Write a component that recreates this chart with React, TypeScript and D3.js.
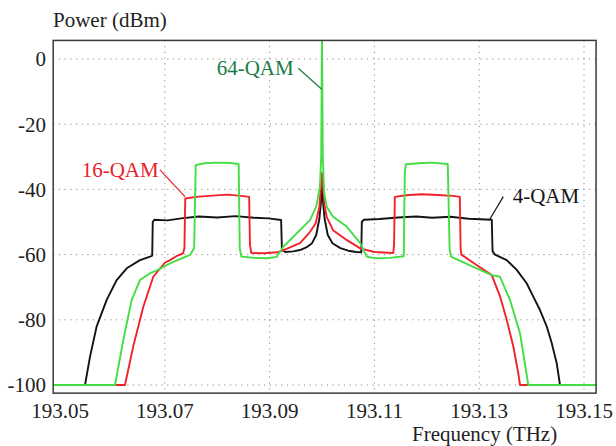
import * as d3 from "d3";

// spectrum traces: frequency (THz) / power (dBm)
const qam4Freq = [
  193.0487, 193.05477, 193.05573, 193.057, 193.05891, 193.06082, 193.06273, 193.06527, 193.06718, 193.0676,
  193.0677, 193.068, 193.0705, 193.0735, 193.0765, 193.08, 193.0835, 193.087, 193.0898, 193.0922,
  193.09235, 193.093, 193.0945, 193.0958, 193.097, 193.0981, 193.0989, 193.0995, 193.0998, 193.1,
  193.1002, 193.1005, 193.1011, 193.102, 193.1035, 193.105, 193.1065, 193.1075, 193.1076, 193.108,
  193.111, 193.1145, 193.118, 193.121, 193.1245, 193.128, 193.1324, 193.13255, 193.13302, 193.13525,
  193.13716, 193.13906, 193.14032, 193.1416, 193.14288, 193.14384, 193.14479, 193.14542, 193.1523,
];
const qam4Power = [
  -100, -100, -91.3, -82, -73.9, -67.8, -64.2, -61.7, -60.6, -60.3,
  -50, -49.3, -49.5, -48.8, -48.3, -48.6, -48.2, -48.7, -48.9, -49.4,
  -58.5, -59.2, -59.0, -58.6, -57.8, -56.5, -54, -49, -44, -37,
  -44, -49, -54, -56.5, -58, -58.8, -59.2, -59.3, -50, -49.3,
  -49.1, -48.6, -48.3, -48.7, -48.4, -49.0, -49.3, -59, -60, -61.7,
  -64.7, -68.8, -72.9, -77, -82, -87.1, -93.3, -100, -100,
];

const qam16Freq = [
  193.0487, 193.0624, 193.064, 193.0659, 193.0678, 193.07, 193.071, 193.0722, 193.0735, 193.07375,
  193.0739, 193.076, 193.079, 193.082, 193.0845, 193.0861, 193.08625, 193.0865, 193.089, 193.0915,
  193.093, 193.0958, 193.0975, 193.0988, 193.0995, 193.1, 193.1005, 193.1009, 193.1021, 193.1047,
  193.1073, 193.11, 193.1136, 193.11375, 193.1139, 193.116, 193.119, 193.122, 193.125, 193.1263,
  193.12645, 193.1266, 193.1295, 193.1324, 193.134, 193.13525, 193.13651, 193.13746, 193.13779, 193.1523,
];
const qam16Power = [
  -100, -100, -88, -76, -66.8, -62.5, -61.7, -60.5, -59.6, -58,
  -42.8, -42.3, -41.9, -41.6, -42.0, -42.3, -57, -59.5, -59.6, -59.3,
  -58.4, -56.5, -53.5, -50.4, -45.3, -35, -45, -48.4, -52.5, -55.5,
  -58.1, -59.2, -59.5, -57, -42.3, -41.8, -41.5, -41.7, -42.0, -42.3,
  -58, -60, -63.2, -66.3, -72.9, -80, -88.2, -96.4, -100, -100,
];

const qam64Freq = [
  193.0487, 193.0605, 193.06208, 193.06368, 193.06527, 193.06718, 193.0683, 193.0692, 193.07099, 193.073,
  193.07481, 193.0756, 193.0759, 193.0775, 193.08, 193.0825, 193.0841, 193.0843, 193.0846, 193.087,
  193.08944, 193.09135, 193.09262, 193.0958, 193.0977, 193.0989, 193.0996, 193.09985, 193.1, 193.10015,
  193.1004, 193.1009, 193.1021, 193.1047, 193.1073, 193.10853, 193.11, 193.113, 193.1156, 193.1158,
  193.116, 193.1185, 193.121, 193.124, 193.12435, 193.1246, 193.12952, 193.13239, 193.13397, 193.13588,
  193.13779, 193.13937, 193.1523,
];
const qam64Power = [
  -100, -100, -86.2, -73.9, -67.8, -65.7, -65.0, -64.2, -62.7, -61.3,
  -60.1, -58, -32.5, -32, -31.8, -31.9, -32.2, -58, -60.6, -61.0,
  -61.1, -60.7, -57.6, -52.5, -49.4, -45.3, -39.2, -30, 8, -30,
  -41, -45.3, -48.4, -51.4, -56.5, -60.6, -61.1, -61.0, -60.5, -35,
  -32.3, -32, -31.8, -32.2, -58, -60.6, -64.2, -66.3, -66.8, -73.9,
  -84.1, -100, -100,
];

const xTicks = [193.05, 193.07, 193.09, 193.11, 193.13, 193.15];
const xGrid = [193.07, 193.09, 193.11, 193.13, 193.15];
const yTicks = [0, -20, -40, -60, -80, -100];

const W = 616;
const H = 446;
const font = '"Liberation Serif", "Times New Roman", Times, serif';

export default function App() {
  const x = d3.scaleLinear().domain([193.05, 193.15]).range([60, 584]);
  const y = d3.scaleLinear().domain([-100, 0]).range([385, 59]);
  const left = x(193.0487);
  const right = x(193.1523);
  const top = y(5.7);
  const bottom = y(-102.5);

  const line = d3
    .line<[number, number]>()
    .x((d) => x(d[0]))
    .y((d) => y(d[1]));

  const series = [
    { f: qam4Freq, p: qam4Power, color: "#141414" },
    { f: qam16Freq, p: qam16Power, color: "#f2222a" },
    { f: qam64Freq, p: qam64Power, color: "#44dd44" },
  ];

  // annotation labels with leader lines, in data coordinates
  const notes = [
    { text: "64-QAM", color: "#1d7a44", at: [193.0799, -4.9], from: [193.09548, -2.85], to: [193.09994, -9.3] },
    { text: "16-QAM", color: "#e8202a", at: [193.05414, -36.3], from: [193.06908, -34.0], to: [193.07385, -42.2] },
    { text: "4-QAM", color: "#141414", at: [193.13639, -44.3], from: [193.1346, -42.2], to: [193.13193, -49.4] },
  ];

  const txt = { fontFamily: font, fontSize: "21px" };

  return (
    <svg width={W} height={H} style={{ position: "absolute", left: 0, top: 0, background: "#fff", fontFamily: font }}>
      <defs>
        <clipPath id="plot">
          <rect x={left} y={top} width={right - left} height={bottom - top} />
        </clipPath>
      </defs>

      {/* grid */}
      {xGrid.map((t) => (
        <line key={"gx" + t} x1={x(t)} x2={x(t)} y1={top} y2={bottom} stroke="#8c8c8c" strokeWidth={1} strokeDasharray="1.2,4.5" />
      ))}
      {yTicks.map((t) => (
        <line key={"gy" + t} x1={left} x2={right} y1={y(t)} y2={y(t)} stroke="#8c8c8c" strokeWidth={1} strokeDasharray="1.2,4.5" />
      ))}

      {/* traces */}
      <g clipPath="url(#plot)">
        {series.map((s, i) => (
          <path
            key={i}
            d={line(s.f.map((f, j) => [f, s.p[j]] as [number, number])) ?? ""}
            fill="none"
            stroke={s.color}
            strokeWidth={1.9}
            strokeLinejoin="round"
          />
        ))}
      </g>

      <rect x={left} y={top} width={right - left} height={bottom - top} fill="none" stroke="#3a3a3a" strokeWidth={1.5} />

      {/* y ticks */}
      {yTicks.map((t) => (
        <text key={"yt" + t} x={46} y={y(t)} dy="0.35em" textAnchor="end" style={txt} fill="#222">
          {t}
        </text>
      ))}
      {/* x ticks */}
      {xTicks.map((t) => (
        <text key={"xt" + t} x={x(t)} y={418} textAnchor="middle" style={txt} fill="#222">
          {t.toFixed(2)}
        </text>
      ))}

      <text x={53} y={27} style={txt} fill="#222">Power (dBm)</text>
      <text x={412} y={441} style={txt} fill="#222">Frequency (THz)</text>

      {notes.map((n) => (
        <g key={n.text}>
          <line x1={x(n.from[0])} y1={y(n.from[1])} x2={x(n.to[0])} y2={y(n.to[1])} stroke={n.color} strokeWidth={1.2} />
          <text x={x(n.at[0])} y={y(n.at[1])} style={txt} fill={n.color}>
            {n.text}
          </text>
        </g>
      ))}
    </svg>
  );
}
